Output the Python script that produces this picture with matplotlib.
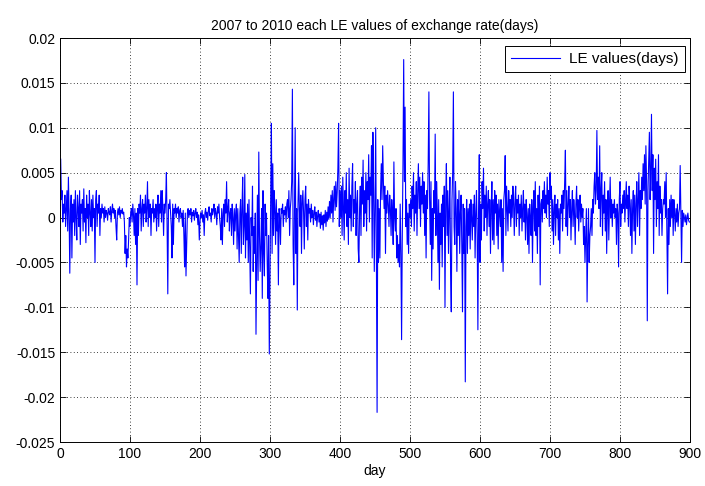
import matplotlib
matplotlib.use("Agg")
import matplotlib.pyplot as plt
import numpy as np

title = "2007 to 2010 each LE values of exchange rate(days)"
xlabel = "day"
legend_label = "LE values(days)"
xticks = [0, 100, 200, 300, 400, 500, 600, 700, 800, 900]
yticks = [-0.025, -0.02, -0.015, -0.01, -0.005, 0, 0.005, 0.01, 0.015, 0.02]
ytick_labels = ["-0.025", "-0.02", "-0.015", "-0.01", "-0.005", "0", "0.005", "0.01", "0.015", "0.02"]

# LE values, in units of 1e-4, day 1 .. 900
le_1_100 = [65, 20, 30, -5, 15, 5, 25, -10, 10, 30, -15, 45, 5, -62, 10, 25, -45, 15, -5, 20,
            -20, 30, 0, -25, 25, 10, -10, 30, -30, 15, 5, 20, -15, 32, -5, 10, -28, 25, 0, 15,
            -20, 30, 5, -10, 20, -15, 25, 0, 10, -50, 20, 30, -10, 15, 5, 25, -20, 10, 0, 15,
            5, 10, -5, 12, 0, 8, 5, -3, 10, 6, 3, 12, -5, 8, 15, 5, 10, 0, 8, -10,
            -25, 5, 10, 3, 12, 0, 8, 5, 10, 4, 6, -5, -40, -20, -55, -35, -45, -25, 0, -10]
le_101_200 = [5, 10, -5, 15, 3, -20, 10, -30, 5, -75, 10, -20, 15, 5, 25, -15, 10, 20, -10, 15,
              5, 25, -5, 10, 40, -10, 20, 0, 15, -20, 10, 5, 20, -5, 10, 0, 15, -15, 10, 25,
              -10, 15, 5, 30, -5, 30, 10, -20, 15, 5, 20, 50, -10, -85, 15, 10, 20, 5, -10, -45,
              15, -30, 10, 5, 15, 0, 10, 5, 12, -5, 8, 10, 0, 5, -10, 8, -20, -55, 5, -65,
              -30, 5, 10, 0, 8, 3, 10, -5, 6, 2, 8, -3, 5, 10, 0, 6, -8, 3, -25, -5]
le_201_300 = [5, 0, 8, -5, 3, -20, 5, 10, 0, 6, -3, 8, 12, 2, 5, -5, 10, 3, 8, 15,
              0, 10, 5, -8, 12, 5, 15, 0, -10, -25, 10, -30, 5, 15, -10, 20, 5, 40, -5, 10,
              20, -15, 5, 10, -20, 15, 0, -30, 10, -15, 5, 15, -35, 10, -20, -50, 5, 20, -40, 10,
              45, -30, -10, 48, -45, 5, -25, 15, -50, 20, -30, -85, 0, -20, 35, -60, -10, -40, 5, -130,
              -50, 25, -70, 73, -20, -60, -30, 10, -90, 30, -40, -65, 15, -20, 5, -50, -90, -20, -152, -60]
le_301_400 = [20, 105, -40, 60, -20, 30, 10, -30, 20, -15, 5, -75, 10, 0, -30, 10, 5, 15, -10, 8,
              3, 12, -5, 15, 20, 0, 30, -20, 10, 20, 40, 143, -30, -75, 20, 100, -40, 10, -103, 15,
              50, 10, -10, 25, -40, 15, 30, 5, -35, 20, 35, -10, 15, -25, 20, 5, 10, -5, 15, 0,
              8, -8, 5, 12, -3, 6, -10, 2, 8, -5, 4, -12, 6, -8, 2, -14, 3, -6, 8, -10,
              6, -4, 12, -2, 18, 0, 25, 5, 30, -5, 22, 35, 8, 40, 12, 28, 55, 105, -10, 30]
le_401_500 = [0, 35, -20, 45, 10, -25, 30, 5, 50, -10, 20, -30, 55, 0, 25, -15, 35, 60, -10, 20,
              5, 40, -20, 15, 30, -35, -50, 10, 35, -20, 45, 15, 64, -10, 30, 5, 50, -15, 40, 20,
              70, -5, 45, 25, 80, -45, 95, 30, -60, 10, 100, -40, -217, 20, -50, 10, -45, 30, 60, 20,
              80, 40, 10, 35, -40, 25, 5, 30, 15, -10, 25, 10, -20, 20, 5, -30, 62, 0, -15, 10,
              -45, -20, -50, -30, -55, 15, -40, -136, -20, 60, 176, 40, 123, -10, 20, -30, 5, -40, 15, 0]
le_501_600 = [20, -10, 35, 10, 50, -15, 25, 5, 40, -20, 30, 60, 10, 45, -10, 35, 15, 50, 5, 40,
              -20, 25, -45, 30, 10, 60, 140, 20, -30, 40, -70, 10, -35, 30, 5, 93, -20, 40, 10, -50,
              20, -80, 5, -30, 15, -55, 25, -10, 35, -100, 20, 60, -20, 30, -40, 10, 45, -60, -105, 20,
              50, 140, -10, -30, 40, 10, -60, 20, -20, 30, -40, 5, 25, -30, -105, 15, -40, 10, -183, -10,
              20, -40, 10, -20, 15, -35, 20, 0, -25, 15, -10, 25, -45, 5, 30, -20, -125, 10, 70, -50]
le_601_700 = [15, -25, 40, 10, 55, -15, 25, 0, 35, -20, 15, 30, -10, 20, -40, 10, 40, -25, 20, -30,
              30, 5, 25, -20, 15, -35, 20, 5, -10, 20, -50, 10, -60, 20, 30, 69, -20, 35, 10, -15,
              30, 5, 20, -10, 25, 0, 35, 15, -20, 20, 35, -10, 20, 5, 25, -20, 15, 0, 25, -15,
              10, 30, -5, 15, -25, 20, 5, -30, 10, -40, 15, 0, -20, 20, -50, 10, 30, -15, 40, -20,
              10, -40, 25, -10, 35, -75, 15, 20, -5, 30, 10, 40, 5, 25, 0, 45, 15, 30, -10, 50]
le_701_800 = [20, 35, -15, 20, -30, 10, 25, -20, 15, 0, 20, -25, 10, -40, 15, 5, 25, -15, 30, 10,
              40, 75, -10, 30, -20, 15, 35, 0, 20, -25, 10, 30, -10, 20, 5, -30, 15, 35, 0, 20,
              -15, 10, 25, -5, 15, 0, 10, -30, -10, -50, -20, 10, -94, -30, 10, -50, -20, -10, 10, -20,
              20, 5, 35, 50, 15, 30, 97, 20, 45, 10, 80, -10, 30, 50, -20, 25, 5, 40, -15, 20,
              -40, 10, 30, -25, 15, 45, 0, 20, -10, 15, 5, 20, 0, 10, -30, 15, 5, -55, 20, 40]
le_801_900 = [-10, 15, 5, 25, 10, 30, -5, 20, 40, 10, 25, -10, 35, 15, -20, 20, -40, 10, 30, -15,
              25, -30, 15, 40, -10, 20, 50, -20, 30, 10, 45, 20, 60, 30, 70, 15, 80, 40, -115, 30,
              65, 95, 20, 50, 115, 30, 70, -40, 55, 20, 65, -10, 40, 10, 70, -20, 35, 5, 20, -20,
              10, 20, 15, 40, 0, 50, -20, -85, 10, -30, 20, -10, 25, 0, 20, -20, 20, 5, -15, 10,
              -5, 15, -10, 5, 10, 58, 5, -50, 8, -10, 5, 0, -5, 3, -8, 0, 5, -3, -5, -5]

le_units = (le_1_100 + le_101_200 + le_201_300 + le_301_400 + le_401_500 +
            le_501_600 + le_601_700 + le_701_800 + le_801_900)
le_values = np.array(le_units, dtype=float) * 1e-4
days = np.arange(1, len(le_values) + 1)

plt.rcParams['font.family'] = ['Liberation Sans', 'DejaVu Sans']
fig = plt.figure(figsize=(7.05, 4.86), dpi=100)
ax = fig.add_axes([0.0851, 0.0905, 0.8936, 0.8313])
ax.plot(days, le_values, color=(0, 0, 1), linewidth=0.8, label=legend_label)
ax.set_xlim(0, 900)
ax.set_ylim(-0.025, 0.02)
ax.set_xticks(xticks)
ax.set_xticklabels([str(t) for t in xticks])
ax.set_yticks(yticks)
ax.set_yticklabels(ytick_labels)
ax.tick_params(direction='in', length=4, labelsize=10, top=True, right=True, width=0.6)
ax.grid(True, linestyle=(0, (1, 3)), color='black', linewidth=0.6)
for s in ax.spines.values():
    s.set_linewidth(0.7)
ax.set_title(title, fontsize=10, pad=6)
ax.set_xlabel(xlabel, fontsize=10, labelpad=2)
leg = ax.legend(loc='upper right', fontsize=11, fancybox=False, framealpha=1,
                edgecolor='black', handlelength=3.2, borderpad=0.4, handletextpad=0.6,
                borderaxespad=0.0, bbox_to_anchor=(0.992, 0.980))
leg.get_frame().set_linewidth(0.7)
fig.savefig("out.png", dpi=100)
